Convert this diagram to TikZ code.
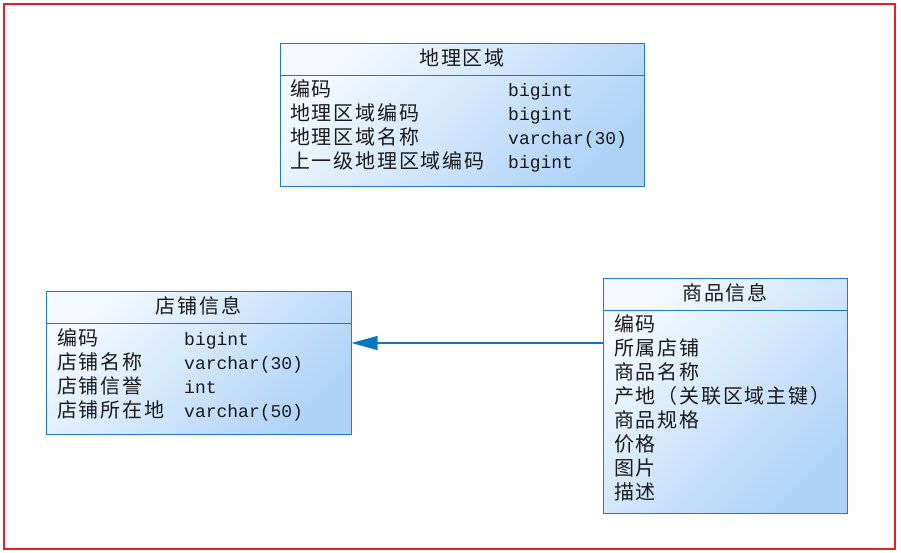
\documentclass[tikz,border=0pt]{standalone}
\usepackage{fontspec}
\setmainfont[LetterSpace=9]{Noto Sans CJK SC}
\setmonofont{Liberation Mono}
\usetikzlibrary{arrows.meta,positioning,calc}
\definecolor{erLine}{HTML}{1A7FC1}
\definecolor{erArrow}{HTML}{0A78BE}
\definecolor{erTop}{HTML}{F4F9FF}
\definecolor{erBottom}{HTML}{AFD3F8}
\definecolor{erFrame}{HTML}{EC1C24}
\definecolor{erInk}{HTML}{1A1A1A}
\tikzset{
  % table body (shaded blue)
  tbl/.style={rectangle,draw=erLine,line width=1pt,
    top color=erTop,bottom color=erBottom,shading angle=45,
    inner sep=0pt},
  % table title
  ttl/.style={anchor=base,font=\fontsize{20}{24}\selectfont,text=erInk,inner sep=0pt},
  % field name and type
  fld/.style={anchor=base west,font=\fontsize{20}{24}\selectfont,text=erInk,inner sep=0pt},
  typ/.style={anchor=base west,font=\ttfamily\fontsize{18}{24}\selectfont,text=erInk,inner sep=0pt},
  % title separator
  sep/.style={draw=erLine,line width=1pt},
  % foreign key arrow
  fk/.style={-{Triangle[length=26pt,width=14pt]},draw=erArrow,fill=erArrow,line width=1.2pt},
}

\begin{document}
\begin{tikzpicture}[x=1pt,y=-1pt]
  \useasboundingbox (0,0) rectangle (901,552);
  % Outer frame
  \draw[erFrame,line width=2pt] (4,4) rectangle (894.5,548.5);

  % Table: region
  \node[tbl,minimum width=364pt,minimum height=143pt] (region) at (462,114.5) {};
  \node[ttl] (regionT) at (462,65) {地理区域};
  \draw[sep] (region.west |- 0,75) -- (region.east |- 0,75);
  \foreach \i/\y/\f/\t in {1/96/编码/bigint,2/120/地理区域编码/bigint,
      3/144/地理区域名称/varchar(30),4/168/上一级地理区域编码/bigint}{
    \node[fld] (region-f\i) at (290,\y) {\f};
    \node[typ] (region-t\i) at (508,\y) {\t};
  }

  % Table: shop
  \node[tbl,minimum width=305pt,minimum height=143pt] (shop) at (198.5,362.5) {};
  \node[ttl] (shopT) at (198.5,313) {店铺信息};
  \draw[sep] (shop.west |- 0,323) -- (shop.east |- 0,323);
  \foreach \i/\y/\f/\t in {1/345/编码/bigint,2/369/店铺名称/varchar(30),
      3/393/店铺信誉/int,4/417/店铺所在地/varchar(50)}{
    \node[fld] (shop-f\i) at (57,\y) {\f};
    \node[typ] (shop-t\i) at (184,\y) {\t};
  }

  % Table: goods
  \node[tbl,minimum width=244pt,minimum height=235pt] (goods) at (725,395.5) {};
  \node[ttl] (goodsT) at (725,300) {商品信息};
  \draw[sep] (goods.west |- 0,310) -- (goods.east |- 0,310);
  \foreach \i/\y/\f in {1/331/编码,2/355/所属店铺,3/379/商品名称,
      4/403/产地（关联区域主键）,5/427/商品规格,6/451/价格,7/475/图片,8/499/描述}{
    \node[fld] (goods-f\i) at (614,\y) {\f};
  }

  % Reference goods -> shop
  \coordinate (fkrow) at (603,343);
  \draw[fk] (goods.west |- fkrow) -- (shop.east |- fkrow);
\end{tikzpicture}
\end{document}
